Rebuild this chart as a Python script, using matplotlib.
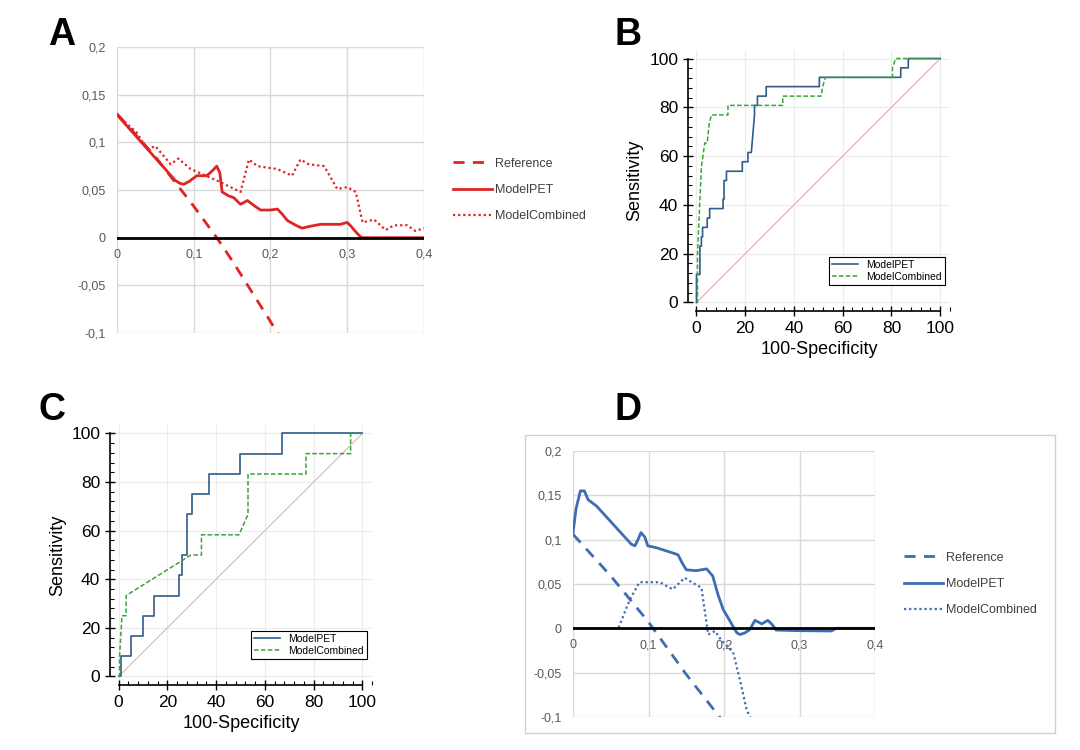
import matplotlib.pyplot as plt
from matplotlib.patches import Rectangle
from matplotlib.ticker import MultipleLocator

# ---- Panel A : decision curve (red) ----
a_ref_x = [0, 0.05, 0.10, 0.13, 0.15, 0.20, 0.21]
a_ref_y = [0.130, 0.085, 0.033, 0.0, -0.024, -0.088, -0.101]
a_pet_x = [0, 0.076, 0.082, 0.087, 0.094, 0.104, 0.117, 0.124, 0.130, 0.134, 0.137, 0.145, 0.152,
           0.161, 0.170, 0.178, 0.187, 0.200, 0.209, 0.215, 0.222, 0.233, 0.241, 0.252, 0.265,
           0.291, 0.300, 0.305, 0.309, 0.317, 0.320, 0.400]
a_pet_y = [0.129, 0.060, 0.057, 0.056, 0.059, 0.065, 0.065, 0.070, 0.075, 0.068, 0.048, 0.044,
           0.042, 0.035, 0.039, 0.034, 0.029, 0.029, 0.030, 0.025, 0.018, 0.013, 0.010, 0.012,
           0.014, 0.014, 0.016, 0.012, 0.008, 0.001, 0.0, 0.0]
a_comb_x = [0, 0.026, 0.039, 0.050, 0.070, 0.080, 0.096, 0.130, 0.161, 0.172, 0.183, 0.209,
            0.228, 0.239, 0.250, 0.270, 0.287, 0.300, 0.311, 0.320, 0.335, 0.350, 0.361,
            0.378, 0.389, 0.400]
a_comb_y = [0.129, 0.110, 0.093, 0.096, 0.077, 0.083, 0.072, 0.060, 0.048, 0.082, 0.075, 0.072,
            0.065, 0.082, 0.077, 0.075, 0.051, 0.053, 0.048, 0.016, 0.019, 0.008, 0.013,
            0.013, 0.007, 0.010]

# ---- Panel D : decision curve (blue) ----
d_ref_x = [0, 0.05, 0.10, 0.15, 0.195]
d_ref_y = [0.106, 0.059, 0.007, -0.052, -0.101]
d_pet_x = [0, 0.004, 0.0097, 0.015, 0.020, 0.031, 0.077, 0.082, 0.086, 0.090, 0.095, 0.099, 0.110,
           0.132, 0.139, 0.145, 0.150, 0.163, 0.177, 0.185, 0.192, 0.199, 0.206, 0.212, 0.217,
           0.221, 0.228, 0.234, 0.241, 0.250, 0.258, 0.264, 0.269, 0.296, 0.342, 0.349, 0.400]
d_pet_y = [0.108, 0.135, 0.155, 0.155, 0.145, 0.138, 0.095, 0.093, 0.100, 0.108, 0.103, 0.093,
           0.091, 0.085, 0.083, 0.073, 0.066, 0.065, 0.067, 0.059, 0.038, 0.021, 0.011, 0.002,
           -0.005, -0.007, -0.005, -0.0015, 0.009, 0.005, 0.009, 0.004, -0.002, -0.0026, -0.003,
           0.0, 0.0]
d_comb_x = [0, 0.060, 0.075, 0.088, 0.115, 0.132, 0.148, 0.159, 0.170, 0.179, 0.188, 0.196,
            0.212, 0.221, 0.230, 0.235]
d_comb_y = [0.0, 0.0, 0.032, 0.052, 0.052, 0.044, 0.057, 0.051, 0.046, -0.007, -0.003, -0.013,
            -0.027, -0.058, -0.092, -0.101]

dca_xticks = [0, 0.1, 0.2, 0.3, 0.4]
dca_xlabels = ['0', '0,1', '0,2', '0,3', '0,4']
dca_yticks = [-0.1, -0.05, 0, 0.05, 0.1, 0.15, 0.2]
dca_ylabels = ['-0,1', '-0,05', '0', '0,05', '0,1', '0,15', '0,2']

# ---- Panel B : ROC ----
b_pet_fpr = [0, 0, 1.4, 1.4, 2.0, 2.0, 2.5, 2.5, 4.4, 4.4, 5.4, 5.4, 10.9, 10.9, 11.3, 11.3,
             12.3, 12.3, 18.8, 18.8, 21.1, 21.1, 22.5, 23.8, 23.8, 25.0, 25.0, 28.6, 28.6,
             49.7, 49.7, 50.4, 50.4, 83.8, 83.8, 86.9, 86.9, 100]
b_pet_tpr = [0, 11.5, 11.5, 23.1, 23.1, 26.9, 26.9, 30.8, 30.8, 34.6, 34.6, 38.5, 38.5, 42.3, 42.3,
             50.0, 50.0, 53.8, 53.8, 57.7, 57.7, 61.5, 61.5, 76.9, 80.8, 80.8, 84.6, 84.6, 88.5,
             88.5, 88.5, 88.5, 92.3, 92.3, 96.2, 96.2, 100, 100]
b_comb_fpr = [0, 0.4, 0.4, 1.4, 2.0, 3.4, 4.4, 5.2, 6.1, 12.9, 12.9, 35.4, 35.4, 51.1, 51.8,
              52.9, 80.4, 80.4, 81.7, 100]
b_comb_tpr = [0, 0, 19.2, 42.3, 55.5, 65.4, 65.4, 73.1, 76.9, 76.9, 80.8, 80.8, 84.6, 84.6, 88.5,
              92.3, 92.3, 96.2, 100, 100]

# ---- Panel C : ROC ----
c_pet_fpr = [0, 1.0, 1.0, 5.2, 5.2, 9.9, 9.9, 14.6, 14.6, 24.9, 24.9, 25.9, 25.9, 27.9, 27.9,
             30.2, 30.2, 37.1, 37.1, 49.9, 49.9, 67.1, 67.1, 100]
c_pet_tpr = [0, 0, 8.3, 8.3, 16.7, 16.7, 25.0, 25.0, 33.3, 33.3, 41.7, 41.7, 50.0, 50.0, 66.7,
             66.7, 75.0, 75.0, 83.3, 83.3, 91.7, 91.7, 100, 100]
c_comb_fpr = [0, 0.4, 0.4, 1.4, 3.1, 3.1, 29.7, 34.0, 34.0, 49.4, 53.1, 53.1, 76.9, 76.9, 95.2,
              95.2, 100]
c_comb_tpr = [0, 0, 8.3, 25.0, 25.0, 33.3, 50.0, 50.0, 58.3, 58.3, 66.7, 83.3, 83.3, 91.7, 91.7,
              100, 100]

plt.rcParams['font.family'] = ['Liberation Sans', 'DejaVu Sans']

fig = plt.figure(figsize=(10.8, 7.5), dpi=100)


def dca_panel(ax, ref, pet, comb, color):
    ax.plot(ref[0], ref[1], color=color, lw=2, linestyle=(0, (4, 3)), label='Reference')
    ax.plot(pet[0], pet[1], color=color, lw=2, label='ModelPET')
    ax.plot(comb[0], comb[1], color=color, lw=1.6, linestyle=(0, (1, 1.3)), label='ModelCombined')
    ax.plot([0, 0.4], [0, 0], color='black', lw=2, zorder=3)
    ax.set_xlim(0, 0.4)
    ax.set_ylim(-0.1, 0.2)
    ax.set_xticks(dca_xticks)
    ax.set_xticklabels(dca_xlabels)
    ax.set_yticks(dca_yticks)
    ax.set_yticklabels(dca_ylabels)
    ax.grid(True, color='#d9d9d9', lw=1)
    ax.set_axisbelow(True)
    for s in ax.spines.values():
        s.set_visible(False)
    ax.spines['bottom'].set_position(('data', 0))
    ax.tick_params(length=0, labelsize=9, labelcolor='#595959', pad=8)
    ax.tick_params(axis='x', pad=8)
    # legend sits to the right of the plot area
    leg = ax.legend(loc='center left', bbox_to_anchor=(1.058, 0.5), frameon=False,
                    fontsize=9, handlelength=3.1, labelspacing=1.15, handletextpad=0.25)
    for t in leg.get_texts():
        t.set_color('#404040')


def roc_panel(ax, pet, comb, diag_color):
    ax.plot([0, 100], [0, 100], color=diag_color, lw=0.8)
    ax.plot(pet[0], pet[1], color='#2f5c8c', lw=1.2, label='ModelPET')
    ax.plot(comb[0], comb[1], color='#3aa33a', lw=1.1, linestyle=(0, (3, 1.5)), label='ModelCombined')
    ax.set_xlim(-3.5, 104)
    ax.set_ylim(-3.5, 103.5)
    ax.set_xticks([0, 20, 40, 60, 80, 100])
    ax.set_yticks([0, 20, 40, 60, 80, 100])
    ax.xaxis.set_minor_locator(MultipleLocator(4))
    ax.yaxis.set_minor_locator(MultipleLocator(4))
    ax.grid(True, color='#ececec', lw=0.8)
    ax.spines['top'].set_visible(False)
    ax.spines['right'].set_visible(False)
    ax.spines['left'].set_bounds(0, 100)
    ax.spines['bottom'].set_bounds(0, 100)
    ax.spines['left'].set_linewidth(1.2)
    ax.spines['bottom'].set_linewidth(1.2)
    ax.tick_params(which='major', direction='inout', length=7, labelsize=12.5, width=1)
    ax.tick_params(which='minor', direction='in', length=3, width=0.8)
    ax.set_xlabel('100-Specificity', fontsize=13)
    ax.set_ylabel('Sensitivity', fontsize=13)
    leg = ax.legend(loc='lower right', bbox_to_anchor=(1.0, 0.08), fontsize=7.5, fancybox=False,
                    edgecolor='black', framealpha=1, handlelength=2.5, borderpad=0.3,
                    labelspacing=0.2)
    leg.get_frame().set_linewidth(0.8)


# Panel A
axA = fig.add_axes([0.1083, 0.556, 0.2843, 0.3813])
dca_panel(axA, (a_ref_x, a_ref_y), (a_pet_x, a_pet_y), (a_comb_x, a_comb_y), '#e02424')

# Panel B
axB = fig.add_axes([0.637, 0.5853, 0.2426, 0.348])
roc_panel(axB, (b_pet_fpr, b_pet_tpr), (b_comb_fpr, b_comb_tpr), '#dcaeae')

# Panel C
axC = fig.add_axes([0.1019, 0.0867, 0.2426, 0.3467])
roc_panel(axC, (c_pet_fpr, c_pet_tpr), (c_comb_fpr, c_comb_tpr), '#cdbcbc')

# Panel D
fig.patches.append(Rectangle((525 / 1080, 1 - 733 / 750), 530 / 1080, 298 / 750,
                             transform=fig.transFigure, fill=False, edgecolor='#d0d0d0', lw=1))
axD = fig.add_axes([0.5306, 0.044, 0.2796, 0.3547])
dca_panel(axD, (d_ref_x, d_ref_y), (d_pet_x, d_pet_y), (d_comb_x, d_comb_y), '#3f6db3')

# panel letters
for lab, x, y in [('A', 62, 35), ('B', 628, 35), ('C', 52, 410), ('D', 628, 410)]:
    fig.text(x / 1080, 1 - y / 750, lab, fontsize=27, fontweight='bold', ha='center', va='center')

plt.savefig('out.png', dpi=100)
